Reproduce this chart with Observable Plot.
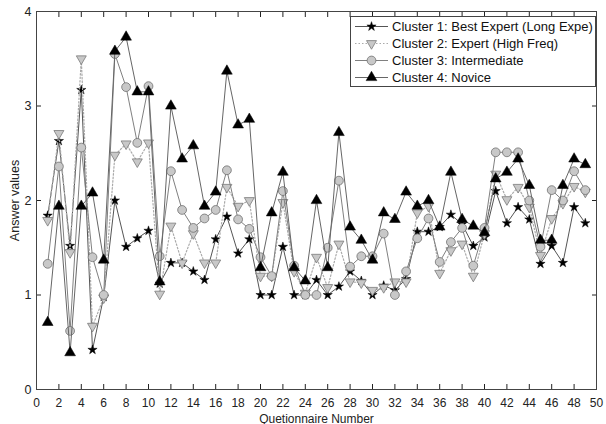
<!DOCTYPE html>
<html><head><meta charset="utf-8">
<script src="https://cdn.jsdelivr.net/npm/d3@7"></script>
<script src="https://cdn.jsdelivr.net/npm/@observablehq/plot@0.6"></script>
<style>
body{margin:0;background:#fff;font-family:Arial,"Liberation Sans",sans-serif;}
#wrap{position:relative;width:606px;height:424px;overflow:hidden;}
#legend{position:absolute;left:350px;top:16px;width:246px;height:71px;border:1px solid #444;background:#fff;box-sizing:border-box;padding-top:1px;}
.row{display:flex;align-items:center;height:17px;font-size:13px;color:#111;white-space:nowrap;}
.row svg{width:41px;height:17px;flex:none;}
</style></head>
<body><div id="wrap"><div id="chart"></div><div id="legend"></div></div>
<script>
const questions = [1,2,3,4,5,6,7,8,9,10,11,12,13,14,15,16,17,18,19,20,21,22,23,24,25,26,27,28,29,30,31,32,33,34,35,36,37,38,39,40,41,42,43,44,45,46,47,48,49];
const bestExpert = [1.84,2.63,1.52,3.17,0.42,0.98,2.0,1.51,1.6,1.68,1.12,1.34,1.34,1.25,1.16,1.59,1.83,1.44,1.59,1.0,1.0,1.51,1.0,1.0,1.16,1.0,1.09,1.25,1.15,1.0,1.1,1.05,1.17,1.67,1.67,1.72,1.85,1.75,1.52,1.61,2.1,1.76,1.93,1.8,1.33,1.52,1.34,1.93,1.76];
const expert = [1.79,2.71,1.45,3.5,0.67,0.97,2.48,2.6,2.41,2.61,1.01,1.73,1.34,1.65,1.34,1.34,2.14,1.94,2.0,1.2,1.2,1.98,1.25,1.02,1.4,1.08,1.54,1.14,1.13,1.05,1.08,1.14,1.14,1.87,1.94,1.23,1.47,1.54,1.2,1.65,2.28,2.01,2.14,1.93,1.42,1.81,1.97,2.15,2.09];
const intermediate = [1.33,2.36,0.62,2.56,1.4,1.0,3.55,3.2,2.61,3.21,1.41,2.31,1.9,1.71,1.81,1.9,2.32,1.8,1.7,1.4,1.2,2.1,1.31,1.0,1.0,1.5,2.21,1.3,1.41,1.41,1.65,1.0,1.25,1.6,1.81,1.35,1.56,1.71,1.31,1.71,2.51,2.51,2.51,2.0,1.51,2.11,2.0,2.31,2.11];
const novice = [0.71,1.94,0.39,1.94,2.08,1.37,3.58,3.73,3.15,3.15,1.14,3.0,2.44,2.58,1.94,2.09,3.37,2.8,2.86,1.29,1.87,2.3,1.29,1.15,2.0,1.29,2.72,1.72,1.58,1.37,1.87,1.8,2.09,1.94,2.0,1.72,2.3,1.8,1.73,1.66,2.23,2.3,2.44,2.16,1.58,1.58,2.16,2.44,2.38];
const seriesNames = ["Cluster 1: Best Expert (Long Expe)","Cluster 2: Expert (High Freq)","Cluster 3: Intermediate","Cluster 4: Novice"];
const xTicks = [0,2,4,6,8,10,12,14,16,18,20,22,24,26,28,30,32,34,36,38,40,42,44,46,48,50];
const yTicks = [0,1,2,3,4];

const triangleDown = {
  draw(context, size) {
    const y = -Math.sqrt(size / (Math.sqrt(3) * 3));
    context.moveTo(0, -y * 2);
    context.lineTo(-Math.sqrt(3) * y, y);
    context.lineTo(Math.sqrt(3) * y, y);
    context.closePath();
  }
};

const styles = [
  {line: {stroke: "#555", strokeWidth: 1}, dot: {symbol: "star", r: 2.9, fill: "#000", stroke: "#000", strokeWidth: 0.5}},
  {line: {stroke: "#aaa", strokeWidth: 1.2, strokeDasharray: "1.5,2"}, dot: {symbol: triangleDown, r: 3.7, fill: "#c8c8c8", stroke: "#7a7a7a", strokeWidth: 0.8}},
  {line: {stroke: "#808080", strokeWidth: 1}, dot: {symbol: "circle", r: 4.4, fill: "#c8c8c8", stroke: "#707070", strokeWidth: 0.8}},
  {line: {stroke: "#666", strokeWidth: 1}, dot: {symbol: "triangle", r: 4.0, fill: "#000", stroke: "#000", strokeWidth: 0.5}}
];
const allSeries = [bestExpert, expert, intermediate, novice];

const dataMarks = [];
allSeries.forEach((vals, i) => {
  const rows = vals.map((v, j) => ({q: questions[j], v}));
  dataMarks.push(Plot.line(rows, {x: "q", y: "v", ...styles[i].line}));
  dataMarks.push(Plot.dot(rows, {x: "q", y: "v", ...styles[i].dot}));
});

const chart = Plot.plot({
  width: 606, height: 424,
  marginLeft: 36, marginRight: 10, marginTop: 11, marginBottom: 35,
  style: {fontFamily: "Arial, 'Liberation Sans', sans-serif", fontSize: "12px", color: "#222", background: "#fff"},
  x: {domain: [0, 50]},
  y: {domain: [0, 4]},
  marks: [
    Plot.axisX({ticks: xTicks, tickSize: -5, tickPadding: 14, tickFormat: d => String(d), label: "Quetionnaire Number", labelArrow: "none", labelAnchor: "center", labelOffset: 33, fontSize: 12}),
    Plot.axisX({anchor: "top", ticks: xTicks, tickSize: -5, tickFormat: () => "", label: null}),
    Plot.axisY({ticks: yTicks, tickSize: -5, tickPadding: 10, tickFormat: d => String(d), label: "Answer values", labelArrow: "none", labelAnchor: "center", labelOffset: 26, fontSize: 12.5}),
    Plot.axisY({anchor: "right", ticks: yTicks, tickSize: -5, tickFormat: () => "", label: null}),
    ...dataMarks,
    Plot.frame({stroke: "#444"})
  ]
});
document.getElementById("chart").appendChild(chart);

// legend
const legend = document.getElementById("legend");
seriesNames.forEach((name, i) => {
  const row = document.createElement("div");
  row.className = "row";
  const svg = d3.create("svg").attr("viewBox", "0 0 41 17");
  const ls = styles[i].line;
  svg.append("line").attr("x1", 4).attr("x2", 37).attr("y1", 8.5).attr("y2", 8.5)
    .attr("stroke", ls.stroke).attr("stroke-width", ls.strokeWidth).attr("stroke-dasharray", ls.strokeDasharray || null);
  const ds = styles[i].dot;
  const sym = ds.symbol === "star" ? d3.symbolStar : ds.symbol === "circle" ? d3.symbolCircle : ds.symbol === "triangle" ? d3.symbolTriangle : ds.symbol;
  svg.append("path").attr("transform", "translate(20.5,8.5)")
    .attr("d", d3.symbol(sym, ds.r * ds.r * Math.PI)())
    .attr("fill", ds.fill).attr("stroke", ds.stroke).attr("stroke-width", ds.strokeWidth);
  row.appendChild(svg.node());
  const t = document.createElement("span");
  t.textContent = name;
  row.appendChild(t);
  legend.appendChild(row);
});
</script>
</body></html>
